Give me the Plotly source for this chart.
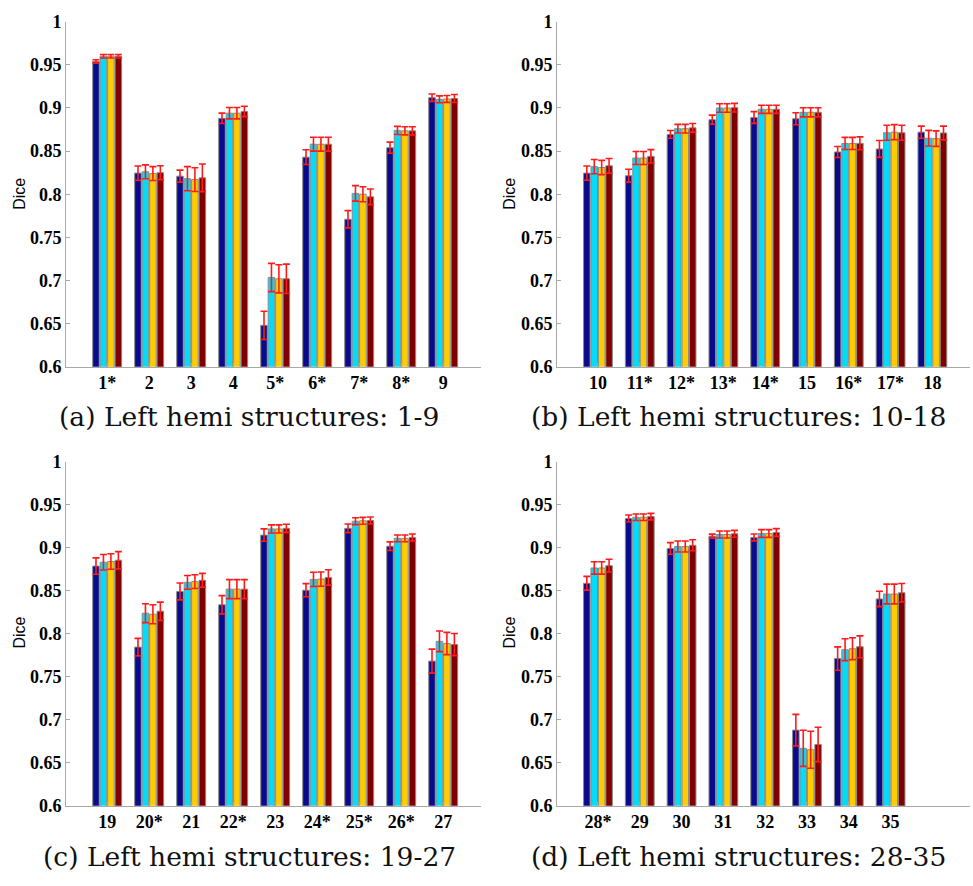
import plotly.graph_objects as go

# ---------------- data ----------------
cats_a = ["1*", "2", "3", "4", "5*", "6*", "7*", "8*", "9"]
cats_b = ["10", "11*", "12*", "13*", "14*", "15", "16*", "17*", "18"]
cats_c = ["19", "20*", "21", "22*", "23", "24*", "25*", "26*", "27"]
cats_d = ["28*", "29", "30", "31", "32", "33", "34", "35"]

series_names = ["Method 1", "Method 2", "Method 3", "Method 4"]
series_colors = ["#0a0a8c", "#00dcfa", "#ffcc00", "#800000"]

# panel (a)
a_m1 = [0.954, 0.8245, 0.821, 0.888, 0.648, 0.843, 0.771, 0.854, 0.912]
a_m2 = [0.960, 0.826, 0.818, 0.894, 0.7035, 0.858, 0.801, 0.874, 0.910]
a_m3 = [0.960, 0.824, 0.817, 0.894, 0.702, 0.858, 0.800, 0.8735, 0.9105]
a_m4 = [0.960, 0.825, 0.819, 0.896, 0.702, 0.858, 0.797, 0.8735, 0.911]
a_e1 = [0.002, 0.0083, 0.007, 0.006, 0.0164, 0.0085, 0.010, 0.0064, 0.0043]
a_e2 = [0.002, 0.008, 0.014, 0.0066, 0.0164, 0.008, 0.009, 0.0047, 0.004]
a_e3 = [0.002, 0.008, 0.0138, 0.0066, 0.0163, 0.008, 0.0087, 0.0047, 0.004]
a_e4 = [0.002, 0.008, 0.016, 0.006, 0.017, 0.008, 0.009, 0.0047, 0.0047]

# panel (b)
b_m1 = [0.8245, 0.8215, 0.8694, 0.8864, 0.889, 0.8875, 0.849, 0.8525, 0.872]
b_m2 = [0.832, 0.842, 0.876, 0.900, 0.8985, 0.895, 0.8589, 0.8713, 0.865]
b_m3 = [0.831, 0.842, 0.876, 0.900, 0.8985, 0.895, 0.8589, 0.872, 0.8645]
b_m4 = [0.833, 0.844, 0.877, 0.9004, 0.8985, 0.895, 0.859, 0.8713, 0.871]
b_e1 = [0.0083, 0.0075, 0.0045, 0.0053, 0.0068, 0.007, 0.0064, 0.0098, 0.007]
b_e2 = [0.0083, 0.0075, 0.005, 0.005, 0.0047, 0.0053, 0.007, 0.0087, 0.009]
b_e3 = [0.0083, 0.0075, 0.005, 0.005, 0.0047, 0.0053, 0.007, 0.0087, 0.009]
b_e4 = [0.0085, 0.0077, 0.005, 0.005, 0.0047, 0.0053, 0.0075, 0.0087, 0.008]

# panel (c)
c_m1 = [0.8785, 0.7843, 0.849, 0.8335, 0.9145, 0.8505, 0.9224, 0.9016, 0.768]
c_m2 = [0.883, 0.8237, 0.8596, 0.8517, 0.9217, 0.863, 0.9307, 0.9107, 0.791]
c_m3 = [0.8838, 0.8225, 0.8604, 0.8517, 0.9217, 0.8634, 0.9311, 0.9107, 0.7885]
c_m4 = [0.8853, 0.826, 0.862, 0.8517, 0.9224, 0.8653, 0.9315, 0.9118, 0.7873]
c_e1 = [0.0095, 0.0102, 0.0098, 0.0106, 0.0072, 0.0076, 0.005, 0.005, 0.014]
c_e2 = [0.009, 0.011, 0.008, 0.011, 0.0047, 0.0083, 0.004, 0.004, 0.012]
c_e3 = [0.009, 0.011, 0.008, 0.011, 0.0047, 0.0083, 0.004, 0.004, 0.0129]
c_e4 = [0.010, 0.0106, 0.008, 0.011, 0.0047, 0.009, 0.004, 0.004, 0.0129]

# panel (d)
d_m1 = [0.8585, 0.9338, 0.899, 0.9133, 0.9118, 0.6878, 0.771, 0.8403]
d_m2 = [0.8763, 0.9353, 0.9012, 0.9152, 0.9164, 0.6666, 0.7813, 0.846]
d_m3 = [0.8763, 0.9353, 0.9012, 0.9152, 0.9164, 0.665, 0.7824, 0.846]
d_m4 = [0.879, 0.936, 0.9027, 0.916, 0.9175, 0.6711, 0.7847, 0.8475]
d_e1 = [0.008, 0.004, 0.0068, 0.0023, 0.004, 0.0183, 0.0136, 0.009]
d_e2 = [0.0072, 0.0038, 0.0064, 0.004, 0.0045, 0.021, 0.0127, 0.0115]
d_e3 = [0.0072, 0.0038, 0.0064, 0.004, 0.0045, 0.0215, 0.0127, 0.0115]
d_e4 = [0.0074, 0.0038, 0.0064, 0.004, 0.0045, 0.020, 0.0127, 0.0108]

captions = ["(a) Left hemi structures: 1-9", "(b) Left hemi structures: 10-18",
            "(c) Left hemi structures: 19-27", "(d) Left hemi structures: 28-35"]

y_ticks = [0.6, 0.65, 0.7, 0.75, 0.8, 0.85, 0.9, 0.95, 1.0]
y_ticktext = ["0.6", "0.65", "0.7", "0.75", "0.8", "0.85", "0.9", "0.95", "1"]

panels = [
    (cats_a, [a_m1, a_m2, a_m3, a_m4], [a_e1, a_e2, a_e3, a_e4]),
    (cats_b, [b_m1, b_m2, b_m3, b_m4], [b_e1, b_e2, b_e3, b_e4]),
    (cats_c, [c_m1, c_m2, c_m3, c_m4], [c_e1, c_e2, c_e3, c_e4]),
    (cats_d, [d_m1, d_m2, d_m3, d_m4], [d_e1, d_e2, d_e3, d_e4]),
]

# ---------------- layout geometry (pixels) ----------------
W, H = 973, 886
x_px = [(66, 481), (557, 970), (66, 481), (557, 970)]
y_px = [(12, 365), (12, 365), (462, 814), (462, 814)]
cap_pos = [(249, 416), (738, 416), (249, 866), (738, 866)]
dice_pos = [(20, 188), (510, 188), (20, 637), (510, 637)]

fig = go.Figure()
annotations = []
layout = dict(
    width=W, height=H,
    margin=dict(l=0, r=0, t=0, b=0),
    plot_bgcolor="white", paper_bgcolor="white",
    barmode="group", bargap=0.29, bargroupgap=0.12,
    showlegend=False,
)

for i, (cats, means, errs) in enumerate(panels):
    n = i + 1
    xa = "x" if n == 1 else f"x{n}"
    ya = "y" if n == 1 else f"y{n}"
    xpos = list(range(1, len(cats) + 1))
    for s in range(4):
        fig.add_trace(go.Bar(
            x=xpos, y=means[s], name=series_names[s],
            marker=dict(color=series_colors[s], line=dict(color="#8a8a8a", width=1)),
            error_y=dict(type="data", array=errs[s], color="#ff1a1a", thickness=1.6, width=3.5),
            xaxis=xa, yaxis=ya,
        ))
    xk = "xaxis" if n == 1 else f"xaxis{n}"
    yk = "yaxis" if n == 1 else f"yaxis{n}"
    layout[xk] = dict(
        domain=[x_px[i][0] / W, x_px[i][1] / W], anchor=ya,
        range=[0.02, 9.9], tickmode="array", tickvals=xpos, ticktext=cats,
        showline=True, linecolor="#a8a8a8", linewidth=1,
        ticks="inside", ticklen=4, tickcolor="#a8a8a8",
        showgrid=False, zeroline=False,
        tickfont=dict(family="Liberation Serif", size=18, color="black", weight=700),
    )
    layout[yk] = dict(
        domain=[1 - y_px[i][1] / H, 1 - y_px[i][0] / H], anchor=xa,
        range=[0.6, 1.0], tickmode="array", tickvals=y_ticks, ticktext=y_ticktext,
        showline=True, linecolor="#a8a8a8", linewidth=1,
        ticks="inside", ticklen=4, tickcolor="#a8a8a8",
        showgrid=False, zeroline=False,
        tickfont=dict(family="Liberation Serif", size=18, color="black", weight=700),
    )
    annotations.append(dict(
        text=captions[i], x=cap_pos[i][0] / W, y=1 - cap_pos[i][1] / H,
        xref="paper", yref="paper", showarrow=False, xanchor="center", yanchor="middle",
        font=dict(family="DejaVu Serif", size=26.5, color="#111111"),
    ))
    annotations.append(dict(
        text="Dice", x=dice_pos[i][0] / W, y=1 - dice_pos[i][1] / H,
        xref="paper", yref="paper", showarrow=False, textangle=-90,
        xanchor="center", yanchor="middle",
        font=dict(family="Liberation Sans", size=16, color="black"),
    ))

layout["annotations"] = annotations
fig.update_layout(**layout)
fig.write_html(
    "out.html",
    config={"displayModeBar": False},
    post_script="document.body.style.margin='0px';document.body.style.overflow='hidden';",
)
